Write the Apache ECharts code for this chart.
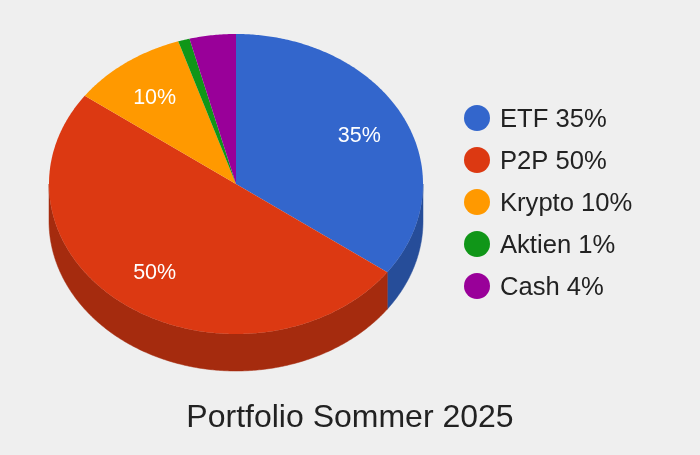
<!DOCTYPE html>
<html>
<head>
<meta charset="utf-8">
<style>html,body{margin:0;padding:0;background:#efefef}#c{width:700px;height:455px}</style>
<script src="https://cdn.jsdelivr.net/npm/echarts@6/dist/echarts.min.js"></script>
</head>
<body>
<div id="c"></div>
<script>
const categories = ['ETF', 'P2P', 'Krypto', 'Aktien', 'Cash'];
const values = [35, 50, 10, 1, 4];
const showLabel = [true, true, true, false, false];
const title = 'Portfolio Sommer 2025';
const colors = ['#3366cc', '#dc3912', '#ff9900', '#109618', '#990099'];
const sideColors = ['#264d99', '#a52b0e', '#bf7300', '#0c7112', '#730073'];

const CX = 236, CY = 184, RX = 187, RY = 150, DEPTH = 37, LABEL_RX = 0.74, LABEL_RY = 0.72, LABEL_DY = 1.5;
const FONT = 'Arial, "Liberation Sans", sans-serif';
const total = values.reduce((a, b) => a + b, 0);

function px(t, dy) {
  return [CX + RX * Math.sin(t), CY + (dy || 0) - RY * Math.cos(t)];
}
function arc(a, b, dy) {
  const pts = [];
  const n = Math.max(2, Math.ceil((b - a) / 0.01));
  for (let i = 0; i <= n; i++) pts.push(px(a + (b - a) * i / n, dy));
  return pts;
}
function renderSlice(params, api) {
  const start = api.value(0) / total * 2 * Math.PI;
  const end = (api.value(0) + api.value(1)) / total * 2 * Math.PI;
  const i = params.seriesIndex;
  const children = [];
  // visible wall: only the front half of the rim (90deg to 270deg from the top)
  const a = Math.max(start, Math.PI / 2), b = Math.min(end, Math.PI * 1.5);
  if (b > a) {
    children.push({
      type: 'polygon', z2: 1,
      shape: { points: arc(a, b, 0).concat(arc(a, b, DEPTH).reverse()) },
      style: { fill: sideColors[i], stroke: sideColors[i], lineWidth: 0.5 }
    });
  }
  children.push({
    type: 'polygon', z2: 2,
    shape: { points: [[CX, CY]].concat(arc(start, end, 0)) },
    style: { fill: colors[i] }
  });
  if (showLabel[i]) {
    const m = (start + end) / 2;
    children.push({
      type: 'text', z2: 3,
      style: {
        x: CX + LABEL_RX * RX * Math.sin(m),
        y: CY + LABEL_DY - LABEL_RY * RY * Math.cos(m),
        text: api.value(1) + '%',
        fill: '#ffffff', font: '21.5px ' + FONT,
        align: 'center', verticalAlign: 'middle'
      }
    });
  }
  return { type: 'group', children };
}

let acc = 0;
const series = categories.map((c, i) => {
  const s = {
    type: 'custom', coordinateSystem: 'none',
    name: c + ' ' + values[i] + '%',
    itemStyle: { color: colors[i] },
    silent: true, animation: false,
    renderItem: renderSlice,
    data: [[acc, values[i]]]
  };
  acc += values[i];
  return s;
});

const chart = echarts.init(document.getElementById('c'));
chart.setOption({
  backgroundColor: '#efefef',
  animation: false,
  title: {
    text: title, left: 'center', top: 397,
    textStyle: { color: '#222222', fontSize: 32, fontWeight: 'normal', fontFamily: FONT }
  },
  legend: {
    orient: 'vertical', left: 464, top: 105, padding: 0,
    icon: 'circle', itemWidth: 26, itemHeight: 26, itemGap: 14,
    selectedMode: false,
    data: series.map(s => s.name),
    formatter: '{t|{name}}',
    textStyle: {
      color: '#222222', fontSize: 25.6, fontFamily: FONT,
      rich: { t: { color: '#222222', fontSize: 25.6, fontFamily: FONT, padding: [4, 0, 0, 5] } }
    }
  },
  series
});
</script>
</body>
</html>
